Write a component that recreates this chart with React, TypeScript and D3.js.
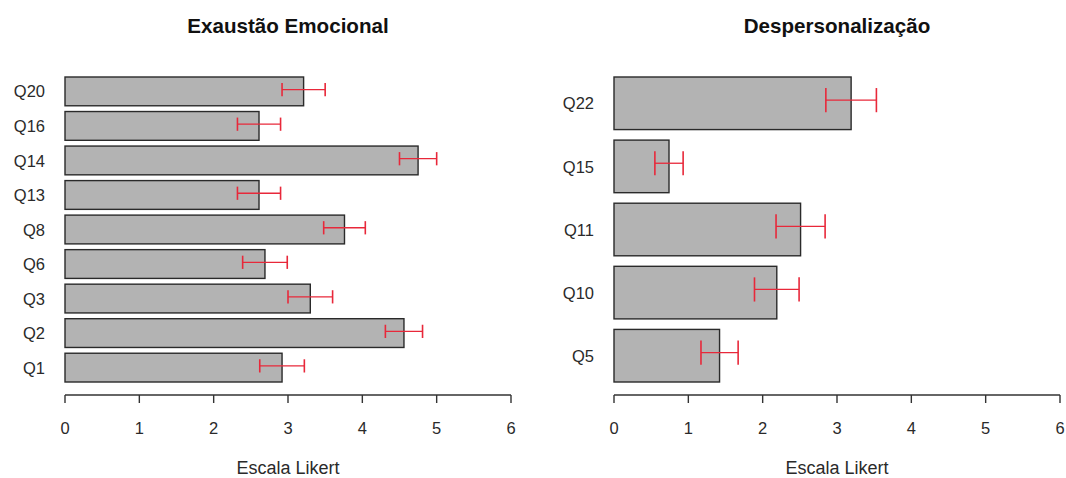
import React from "react";
import * as d3 from "d3";

// Mean scores (Likert scale) with error margins, per questionnaire item
const emotionalItems = ["Q20", "Q16", "Q14", "Q13", "Q8", "Q6", "Q3", "Q2", "Q1"];
const emotionalMeans = [3.21, 2.61, 4.75, 2.61, 3.76, 2.69, 3.3, 4.56, 2.92];
const emotionalErrors = [0.29, 0.29, 0.25, 0.29, 0.28, 0.3, 0.3, 0.25, 0.3];

const depersonalItems = ["Q22", "Q15", "Q11", "Q10", "Q5"];
const depersonalMeans = [3.19, 0.74, 2.51, 2.19, 1.42];
const depersonalErrors = [0.34, 0.19, 0.33, 0.3, 0.25];

const xTicks = [0, 1, 2, 3, 4, 5, 6];
const xLabel = "Escala Likert";

const FONT = "'Liberation Sans', Arial, Helvetica, sans-serif";

type PanelProps = {
  title: string;
  items: string[];
  means: number[];
  errors: number[];
  left: number;
  right: number;
};

const TOP = 77;
const BOTTOM = 382;
const AXIS_Y = 395;

function Panel({ title, items, means, errors, left, right }: PanelProps) {
  const x = d3.scaleLinear().domain([0, 6]).range([left, right]);
  const y = d3
    .scaleBand<string>()
    .domain(items)
    .range([TOP, BOTTOM])
    .paddingInner(0.2 / 1.2)
    .paddingOuter(0);
  const bw = y.bandwidth();
  const cap = bw * 0.46;
  const mid = (left + right) / 2;

  return (
    <g>
      <text
        x={mid}
        y={33}
        textAnchor="middle"
        fontFamily={FONT}
        fontWeight="bold"
        fontSize={20.6}
        fill="#111"
      >
        {title}
      </text>

      {items.map((k, i) => {
        const y0 = y(k)!;
        const cy = y0 + bw / 2;
        const ey = cy - bw * 0.06;
        const lo = x(means[i] - errors[i]);
        const hi = x(means[i] + errors[i]);
        return (
          <g key={k}>
            <rect
              x={x(0)}
              y={y0}
              width={x(means[i]) - x(0)}
              height={bw}
              fill="#b3b3b3"
              stroke="#2a2a2a"
              strokeWidth={1.4}
            />
            <line x1={lo} x2={hi} y1={ey} y2={ey} stroke="#e8283a" strokeWidth={1.3} />
            <line x1={lo} x2={lo} y1={ey - cap / 2} y2={ey + cap / 2} stroke="#e8283a" strokeWidth={1.6} />
            <line x1={hi} x2={hi} y1={ey - cap / 2} y2={ey + cap / 2} stroke="#e8283a" strokeWidth={1.6} />
            <text
              x={left - 20}
              y={cy}
              dy="0.37em"
              textAnchor="end"
              fontFamily={FONT}
              fontSize={16.5}
              fill="#2a2a2a"
            >
              {k}
            </text>
          </g>
        );
      })}

      {/* x axis */}
      <line x1={x(0)} x2={x(6)} y1={AXIS_Y} y2={AXIS_Y} stroke="#333" strokeWidth={1.4} />
      {xTicks.map((t) => (
        <g key={t}>
          <line x1={x(t)} x2={x(t)} y1={AXIS_Y} y2={AXIS_Y + 8} stroke="#333" strokeWidth={1.4} />
          <text
            x={x(t)}
            y={AXIS_Y + 39}
            textAnchor="middle"
            fontFamily={FONT}
            fontSize={16.5}
            fill="#2a2a2a"
          >
            {t}
          </text>
        </g>
      ))}
      <text
        x={mid}
        y={474}
        textAnchor="middle"
        fontFamily={FONT}
        fontSize={18}
        fill="#2a2a2a"
      >
        {xLabel}
      </text>
    </g>
  );
}

export default function App() {
  return (
    <svg
      width={1066}
      height={478}
      style={{ position: "absolute", left: 0, top: 0, background: "#fff" }}
    >
      <rect width={1066} height={478} fill="#fff" />
      <Panel
        title="Exaustão Emocional"
        items={emotionalItems}
        means={emotionalMeans}
        errors={emotionalErrors}
        left={65}
        right={511}
      />
      <Panel
        title="Despersonalização"
        items={depersonalItems}
        means={depersonalMeans}
        errors={depersonalErrors}
        left={614}
        right={1060}
      />
    </svg>
  );
}
